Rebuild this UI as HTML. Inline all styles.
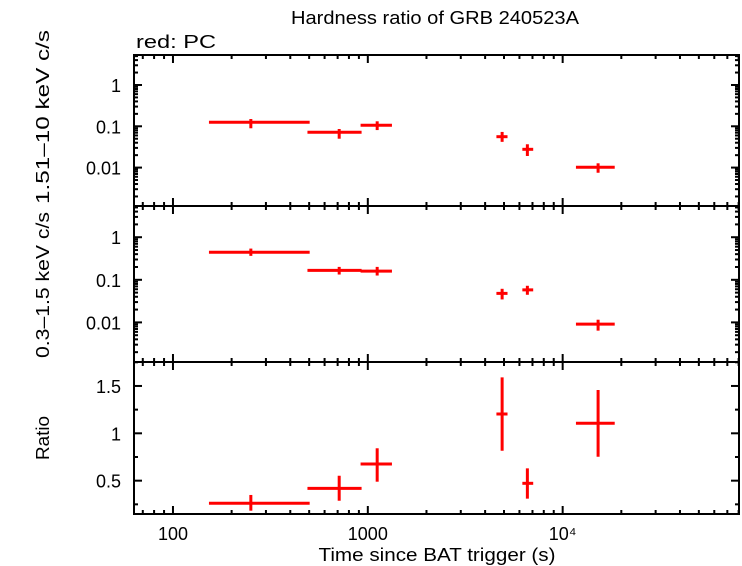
<!DOCTYPE html>
<html><head><meta charset="utf-8"><style>
html,body{margin:0;padding:0;background:#fff;}
svg{display:block;font-family:"Liberation Sans",sans-serif;}
</style></head><body>
<svg id="chart" width="742" height="566" viewBox="0 0 742 566" xmlns="http://www.w3.org/2000/svg">
<text x="435" y="24" font-size="18" text-anchor="middle" textLength="288" lengthAdjust="spacingAndGlyphs">Hardness ratio of GRB 240523A</text>
<text x="136" y="48" font-size="18" textLength="80" lengthAdjust="spacingAndGlyphs">red: PC</text>
<g id="axes"></g>
<g id="marks"></g>
</svg>
<script>
const timeCenter=[251,713,1117,4890,6590,15200];
const timeLo=[153,490,918,4571,6210,11700];
const timeHi=[503,929,1330,5212,7060,18500];
const hardRate=[0.125,0.0716,0.106,0.056,0.0277,0.0102];
const hardLo=[0.0895,0.050,0.081,0.042,0.0191,0.0075];
const hardHi=[0.150,0.086,0.132,0.073,0.0367,0.0127];
const softRate=[0.445,0.166,0.160,0.048,0.058,0.0091];
const softLo=[0.365,0.133,0.126,0.0346,0.0445,0.0064];
const softHi=[0.541,0.201,0.201,0.0615,0.0724,0.01156];
const ratio=[0.261,0.419,0.676,1.204,0.472,1.106];
const ratioLo=[0.183,0.288,0.489,0.816,0.31,0.753];
const ratioHi=[0.349,0.552,0.842,1.591,0.63,1.457];
const xTickVals=[100,1000,10000];
const xTickLabels=["100","1000","10⁴"];
const logTickVals=[1,0.1,0.01];
const logTickLabels=["1","0.1","0.01"];
const ratioTickVals=[0.5,1,1.5];
const ratioTickLabels=["0.5","1","1.5"];

const NS="http://www.w3.org/2000/svg";
const L=134,R=739;
const panels=[
 {top:55,bot:206,log:true,min:-2.93,max:0.726},
 {top:206,bot:362,log:true,min:-2.93,max:0.733},
 {top:362,bot:514,log:false,min:0.148,max:1.753}
];
const xMin=1.8,xMax=4.905;
function xs(t){return L+(Math.log10(t)-xMin)/(xMax-xMin)*(R-L);}
function ys(p,v){const u=p.log?Math.log10(v):v;return p.bot-(u-p.min)/(p.max-p.min)*(p.bot-p.top);}
const axes=document.getElementById('axes'),marks=document.getElementById('marks');
function line(g,x1,y1,x2,y2,c,w,name){const l=document.createElementNS(NS,'line');
l.setAttribute('x1',x1);l.setAttribute('y1',y1);l.setAttribute('x2',x2);l.setAttribute('y2',y2);
l.setAttribute('stroke',c);l.setAttribute('stroke-width',w);


g.appendChild(l);return l;}
function text(x,y,s,anchor,name,rot,len){const t=document.createElementNS(NS,'text');
t.setAttribute('x',x);t.setAttribute('y',y);t.setAttribute('font-size','18');t.setAttribute('text-anchor',anchor);
if(len){t.setAttribute('textLength',len);t.setAttribute('lengthAdjust','spacingAndGlyphs');}
if(rot)t.setAttribute('transform','rotate(-90 '+x+' '+y+')');
t.textContent=s;


axes.appendChild(t);}
panels.forEach(p=>{
 for(let d=1;d<=4;d++){for(let m=1;m<=9;m++){const v=m*Math.pow(10,d);const x=xs(v);if(x<L||x>R)continue;
  const len=m===1?8:4;
  line(axes,x,p.bot,x,p.bot-len,'#000',2,'x-tick');
  line(axes,x,p.top,x,p.top+len,'#000',2,'x-tick');}}
 if(p.log){for(let d=-3;d<=0;d++){for(let m=1;m<=9;m++){const v=m*Math.pow(10,d);const y=ys(p,v);if(y<p.top||y>p.bot)continue;
  const len=m===1?8:4;
  line(axes,L,y,L+len,y,'#000',2,'y-tick');line(axes,R,y,R-len,y,'#000',2,'y-tick');}}}
 else{for(let v=0.25;v<1.8;v+=0.25){const y=ys(p,v);if(y<p.top||y>p.bot)continue;
  const len=(Math.abs(v*2-Math.round(v*2))<1e-6)?8:4;
  line(axes,L,y,L+len,y,'#000',2,'y-tick');line(axes,R,y,R-len,y,'#000',2,'y-tick');}}
 const r=document.createElementNS(NS,'rect');r.setAttribute('x',L);r.setAttribute('y',p.top);
 r.setAttribute('width',R-L);r.setAttribute('height',p.bot-p.top);r.setAttribute('fill','none');
 r.setAttribute('stroke','#000');r.setAttribute('stroke-width','2');
 
 
 axes.appendChild(r);
});
xTickVals.forEach((v,i)=>text(xs(v),540,xTickLabels[i],'middle','x-tick-label'));
logTickVals.forEach((v,i)=>{text(121,ys(panels[0],v)+7,logTickLabels[i],'end','y-tick-label-hard');
 text(121,ys(panels[1],v)+7,logTickLabels[i],'end','y-tick-label-soft');});
ratioTickVals.forEach((v,i)=>text(121,ys(panels[2],v)+7,ratioTickLabels[i],'end','y-tick-label-ratio'));
text(437,561,'Time since BAT trigger (s)','middle','x-axis-title',false,237);
text(49,117,'1.51\u201310 keV c/s','middle','y-axis-title-hard',true,174);
text(49,285,'0.3\u20131.5 keV c/s','middle','y-axis-title-soft',true,146);
text(49,438,'Ratio','middle','y-axis-title-ratio',true,44);
function series(p,val,lo,hi,name){
 for(let i=0;i<timeCenter.length;i++){
  const y=ys(p,val[i]),x=xs(timeCenter[i]);
  line(marks,xs(timeLo[i]),y,xs(timeHi[i]),y,'#f00',3,name+'-xerr');
  line(marks,x,ys(p,lo[i]),x,ys(p,hi[i]),'#f00',3,name+'-yerr');}}
series(panels[0],hardRate,hardLo,hardHi,'hard-point');
series(panels[1],softRate,softLo,softHi,'soft-point');
series(panels[2],ratio,ratioLo,ratioHi,'ratio-point');
</script>
</body></html>
